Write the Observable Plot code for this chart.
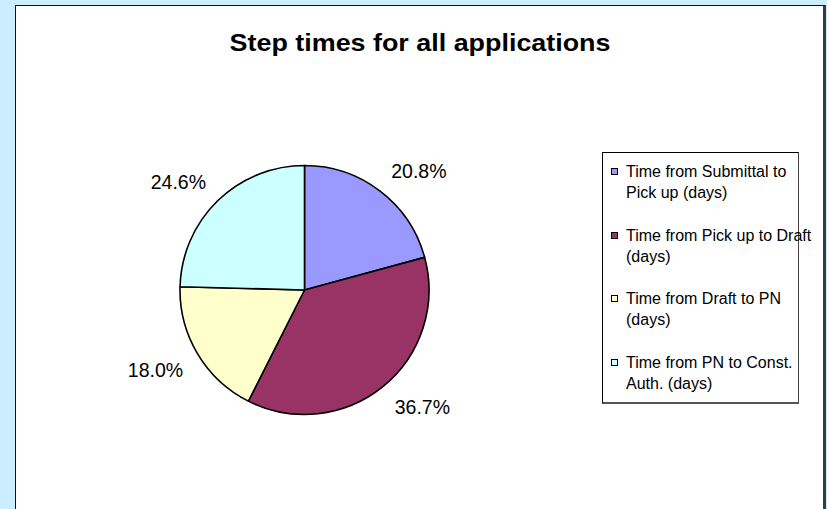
<!DOCTYPE html>
<html><head><meta charset="utf-8">
<script src="https://cdn.jsdelivr.net/npm/d3@7"></script>
<script src="https://cdn.jsdelivr.net/npm/@observablehq/plot@0.6"></script>
<style>
html,body{margin:0;padding:0;background:#CCECFF;width:827px;height:509px;overflow:hidden;font-family:"Liberation Sans",Arial,sans-serif;}
#panel{position:absolute;left:15px;top:5px;width:807px;height:540px;background:#fff;border-left:1px solid #111;border-top:1px solid #111;border-right:3px solid #3a3a3a;}
#title{position:absolute;left:15px;width:810px;top:29px;text-align:center;color:#000;}
#title span{display:inline-block;font-weight:bold;font-size:24px;transform:scaleX(1.12);transform-origin:center;}
#chart{position:absolute;left:0;top:0;}
#legend{position:absolute;left:602px;top:152px;width:197px;height:252px;border:1px solid #000;border-right-color:#444;border-bottom:2px solid #555;box-sizing:border-box;background:#fff;}
.entry{position:absolute;left:23px;font-size:16px;line-height:21px;white-space:pre;color:#000;}
.sw{position:absolute;left:-15px;top:7px;width:5px;height:5px;border:1.5px solid #000;}
</style></head>
<body>
<div id="panel"></div>
<div id="chart"></div>
<div id="title"><span></span></div>
<div id="legend"></div>
<script>
const title = "Step times for all applications";
const categories = [
  "Time from Submittal to\nPick up (days)",
  "Time from Pick up to Draft\n(days)",
  "Time from Draft to PN\n(days)",
  "Time from PN to Const.\nAuth. (days)"
];
const shares = [20.8, 36.7, 18.0, 24.6];
const labels = ["20.8%", "36.7%", "18.0%", "24.6%"];
const colors = ["#9999FF", "#993366", "#FFFFCC", "#CCFFFF"];

document.querySelector("#title span").textContent = title;

const pie = d3.pie().sort(null).value(d => d.value)(
  shares.map((v, i) => ({value: v, name: categories[i], label: labels[i], color: colors[i]}))
);
const gap = 0.14;
const slices = pie.map(p => {
  const mid = (p.startAngle + p.endAngle) / 2;
  return {
    ...p.data, startAngle: p.startAngle, endAngle: p.endAngle,
    lx: Math.sin(mid) * (1 + gap), ly: Math.cos(mid) * (1 + gap),
    right: Math.sin(mid) >= 0, top: Math.cos(mid) >= 0
  };
});

const cx = 304.5, cy = 290, R = 124.5;

const pieMark = (index, scales) => {
  const x0 = scales.x(0), y0 = scales.y(0), r = scales.x(1) - scales.x(0);
  const arc = d3.arc().innerRadius(0).outerRadius(r);
  const g = d3.create("svg:g").attr("transform", `translate(${x0},${y0})`);
  g.selectAll("path").data(slices).join("path")
    .attr("d", d => arc(d))
    .attr("fill", d => d.color)
    .attr("stroke", "#000")
    .attr("stroke-width", 1.6)
    .attr("stroke-linejoin", "round");
  return g.node();
};

const textOpts = (right, top) => ({
  filter: d => d.right === right && d.top === top,
  x: "lx", y: "ly", text: "label",
  textAnchor: right ? "start" : "end",
  lineAnchor: top ? "bottom" : "top",
  fontSize: 19.5, fill: "#000",
  fontFamily: "Liberation Sans, Arial, sans-serif"
});

const chart = Plot.plot({
  width: 827, height: 509,
  margin: 0,
  style: {background: "transparent", overflow: "visible"},
  x: {domain: [-1, 1], range: [cx - R, cx + R], axis: null},
  y: {domain: [-1, 1], range: [cy + R, cy - R], axis: null},
  marks: [
    pieMark,
    Plot.text(slices, textOpts(true, true)),
    Plot.text(slices, textOpts(true, false)),
    Plot.text(slices, textOpts(false, true)),
    Plot.text(slices, textOpts(false, false))
  ]
});
document.getElementById("chart").appendChild(chart);

const legend = document.getElementById("legend");
categories.forEach((c, i) => {
  const e = document.createElement("div");
  e.className = "entry";
  e.style.top = (8 + i * 63.5) + "px";
  e.textContent = c;
  const s = document.createElement("div");
  s.className = "sw";
  s.style.background = colors[i];
  e.appendChild(s);
  legend.appendChild(e);
});
</script>
</body></html>
